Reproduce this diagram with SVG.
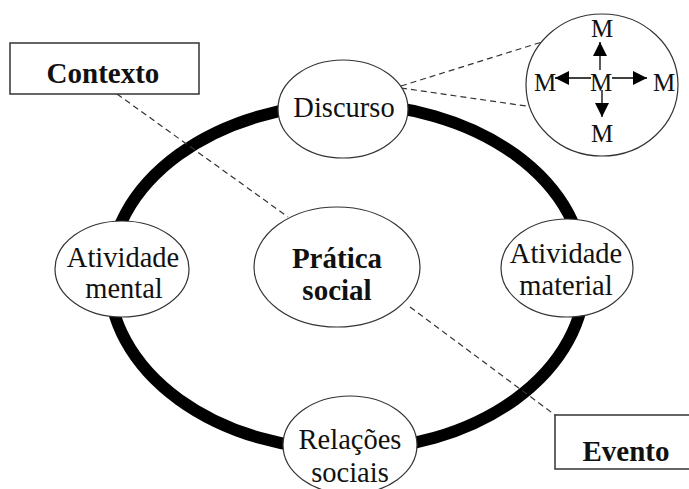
<svg xmlns="http://www.w3.org/2000/svg" width="689" height="489" viewBox="0 0 689 489">
  <defs>
    <style>
      .node { fill: #ffffff; stroke: #333333; stroke-width: 1.2; }
      .box { fill: #ffffff; stroke: #333333; stroke-width: 1.5; }
      .dash { fill: none; stroke: #333333; stroke-width: 1.2; stroke-dasharray: 6 4; }
      .ring { fill: none; stroke: #000000; stroke-width: 12; }
      .arrow { stroke: #000000; stroke-width: 1.3; }
      .lbl { font-size: 28.5px; fill: #111111; text-anchor: middle; }
      .bold { font-weight: bold; font-size: 29px; }
      .m { font-size: 25px; fill: #111111; text-anchor: middle; }
    </style>
    <marker id="ah" viewBox="0 0 10 10" refX="10" refY="5" markerWidth="15" markerHeight="14" markerUnits="userSpaceOnUse" orient="auto">
      <path d="M0,0 L10,5 L0,10 Z" fill="#000000"/>
    </marker>
  </defs>
  <rect width="689" height="489" fill="#ffffff"/>

  <g id="connectors">
    <ellipse class="ring" cx="347" cy="277" rx="238" ry="173"/>
    <line class="dash" x1="117" y1="94" x2="288" y2="217"/>
    <line class="dash" x1="410" y1="307" x2="555" y2="415"/>
    <line class="dash" x1="401" y1="86" x2="542" y2="42"/>
    <line class="dash" x1="401" y1="88" x2="526" y2="106"/>
  </g>

  <g font-family="'Liberation Serif', 'DejaVu Serif', serif">
  <g id="contexto">
    <rect class="box" x="10" y="43" width="189" height="51"/>
    <text class="lbl bold" x="103" y="83">Contexto</text>
  </g>

  <g id="evento">
    <rect class="box" x="555" y="415" width="145" height="54"/>
    <text class="lbl bold" x="626" y="461">Evento</text>
  </g>

  <g id="discurso">
    <ellipse class="node" cx="343" cy="109" rx="65" ry="49"/>
    <text class="lbl" x="344" y="117">Discurso</text>
  </g>

  <g id="atividade-mental">
    <ellipse class="node" cx="122" cy="269" rx="67" ry="48"/>
    <text class="lbl" x="123" y="267">Atividade</text>
    <text class="lbl" x="124" y="298">mental</text>
  </g>

  <g id="pratica-social">
    <ellipse class="node" cx="337" cy="267" rx="83" ry="60"/>
    <text class="lbl bold" x="337" y="268">Prática</text>
    <text class="lbl bold" x="337" y="300">social</text>
  </g>

  <g id="atividade-material">
    <ellipse class="node" cx="567" cy="268" rx="66" ry="49"/>
    <text class="lbl" x="566" y="263">Atividade</text>
    <text class="lbl" x="566" y="295">material</text>
  </g>

  <g id="relacoes-sociais">
    <ellipse class="node" cx="350" cy="445" rx="67" ry="49"/>
    <text class="lbl" x="350" y="449">Relações</text>
    <text class="lbl" x="350" y="482">sociais</text>
  </g>

  <g id="zoom-circle">
    <ellipse class="node" cx="602" cy="85" rx="76" ry="71"/>
    <line class="arrow" x1="600" y1="70" x2="600" y2="42" marker-end="url(#ah)"/>
    <line class="arrow" x1="602" y1="90" x2="602" y2="117" marker-end="url(#ah)"/>
    <line class="arrow" x1="591" y1="78" x2="555" y2="78" marker-end="url(#ah)"/>
    <line class="arrow" x1="612" y1="78" x2="647" y2="78" marker-end="url(#ah)"/>
    <text class="m" x="602" y="37">M</text>
    <text class="m" x="601" y="91">M</text>
    <text class="m" x="602" y="142">M</text>
    <text class="m" x="545" y="91">M</text>
    <text class="m" x="664" y="91">M</text>
  </g>
  </g>
</svg>
